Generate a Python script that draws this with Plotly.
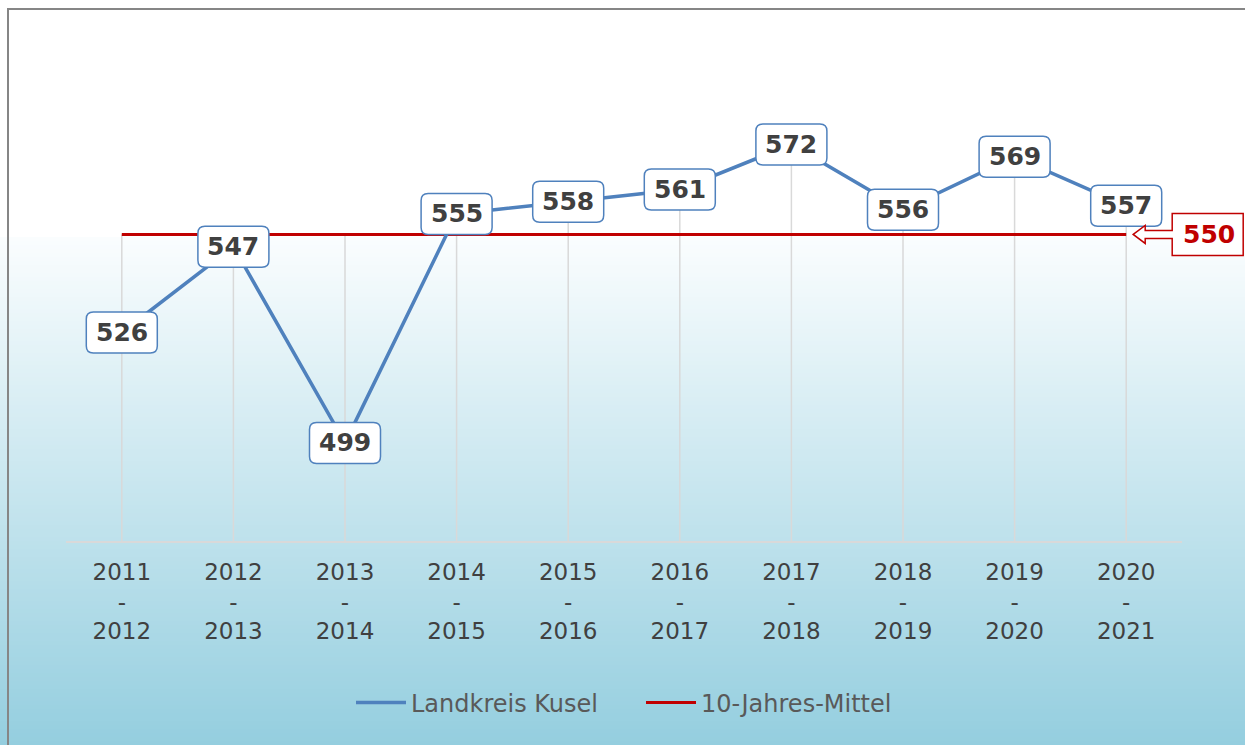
import plotly.graph_objects as go

# data
zeitraum = ["2011<br>-<br>2012", "2012<br>-<br>2013", "2013<br>-<br>2014", "2014<br>-<br>2015",
            "2015<br>-<br>2016", "2016<br>-<br>2017", "2017<br>-<br>2018", "2018<br>-<br>2019",
            "2019<br>-<br>2020", "2020<br>-<br>2021"]
kusel = [526, 547, 499, 555, 558, 561, 572, 556, 569, 557]
mittel_wert = 550
mittel = [mittel_wert] * len(zeitraum)

Y_MIN, Y_MAX = 475, 600
W, H = 1245, 745
ML, MR, MT, MB = 66, 63, 30, 204
PLOT_H = H - MT - MB
PLOT_W = W - ML - MR


def py(pix):
    # pixel row -> paper y
    return (H - MB - pix) / PLOT_H


def px(pix):
    return (pix - ML) / PLOT_W


fig = go.Figure()

# drop lines down to the axis
dx, dy = [], []
for cat, v, m in zip(zeitraum, kusel, mittel):
    dx += [cat, cat, None]
    dy += [Y_MIN, max(v, m), None]
fig.add_trace(go.Scatter(x=dx, y=dy, mode="lines", showlegend=False, hoverinfo="skip",
                         line=dict(color="#d9d9d9", width=1.5)))

fig.add_trace(go.Scatter(x=zeitraum, y=mittel, mode="lines", name="10-Jahres-Mittel",
                         legendrank=2, line=dict(color="#c00000", width=3)))
fig.add_trace(go.Scatter(x=zeitraum, y=kusel, mode="lines", name="Landkreis Kusel",
                         legendrank=1, line=dict(color="#4f81bd", width=3.5)))

shapes = []
# background gradient: white on top, light blue toward the bottom
top_c = (250, 253, 254)
bot_c = (148, 206, 223)
start, end, step = 237, 746, 4
n = (end - start) // step + 1
for i in range(n):
    t = i / (n - 1)
    c = tuple(round(a + (b - a) * t) for a, b in zip(top_c, bot_c))
    y0 = start + i * step
    shapes.append(dict(type="rect", xref="paper", yref="paper", layer="below",
                       x0=px(-5), x1=px(W + 5), y0=py(y0), y1=py(y0 + step + 1),
                       fillcolor="rgb(%d,%d,%d)" % c, line=dict(width=0)))

# frame
shapes.append(dict(type="rect", xref="paper", yref="paper", layer="above",
                   x0=px(8), x1=px(W + 20), y0=py(H + 20), y1=py(9),
                   line=dict(color="#868686", width=2)))


def rounded_box(hw, hh, r):
    return (f"M {-hw + r},{-hh} L {hw - r},{-hh} Q {hw},{-hh} {hw},{-hh + r} "
            f"L {hw},{hh - r} Q {hw},{hh} {hw - r},{hh} L {-hw + r},{hh} "
            f"Q {-hw},{hh} {-hw},{hh - r} L {-hw},{-hh + r} Q {-hw},{-hh} {-hw + r},{-hh} Z")


annotations = []
for cat, v in zip(zeitraum, kusel):
    shapes.append(dict(type="path", xref="x", yref="y", xsizemode="pixel", ysizemode="pixel",
                       xanchor=cat, yanchor=v, path=rounded_box(35.5, 20.5, 7), layer="above",
                       fillcolor="white", line=dict(color="#4f81bd", width=1.5)))
    annotations.append(dict(x=cat, y=v, text=f"<b>{v}</b>", showarrow=False,
                            font=dict(family="DejaVu Sans", size=25, color="#404040")))

# callout for the mean (paper-anchored so it is not clipped at the plot edge)
last = len(zeitraum) - 1
shapes.append(dict(type="path", xref="paper", yref="paper", xsizemode="pixel", ysizemode="pixel",
                   xanchor=(last + 0.5) / len(zeitraum),
                   yanchor=(mittel_wert - Y_MIN) / (Y_MAX - Y_MIN), layer="above",
                   path="M 7,0 L 19,9 L 19,4 L 46,4 L 46,21 L 117,21 L 117,-21 L 46,-21 "
                        "L 46,-4 L 19,-4 L 19,-9 Z",
                   fillcolor="white", line=dict(color="#c00000", width=1.5)))
annotations.append(dict(x=zeitraum[-1], y=mittel_wert, xshift=83, text=f"<b>{mittel_wert}</b>",
                        showarrow=False,
                        font=dict(family="DejaVu Sans", size=25, color="#c00000")))

fig.update_layout(
    width=W, height=H,
    margin=dict(l=ML, r=MR, t=MT, b=MB),
    paper_bgcolor="white", plot_bgcolor="rgba(0,0,0,0)",
    shapes=shapes, annotations=annotations,
    font=dict(family="DejaVu Sans", color="#404040"),
    legend=dict(orientation="h", x=px(351), xanchor="left", y=py(703), yanchor="middle",
                bgcolor="rgba(0,0,0,0)", font=dict(size=24, color="#595959"),
                itemwidth=50, entrywidth=225),
)
fig.update_xaxes(type="category", range=[-0.5, len(zeitraum) - 0.5], showgrid=False,
                 showline=True, linecolor="#d9d9d9", linewidth=2, ticks="",
                 ticklabelstandoff=9,
                 tickfont=dict(size=23, color="#404040"), fixedrange=True)
fig.update_yaxes(range=[Y_MIN, Y_MAX], visible=False, fixedrange=True)

# no page margin, so the figure fills the window exactly
fig.write_html("out.html", config={"displayModeBar": False},
               post_script="document.body.style.margin='0';")
